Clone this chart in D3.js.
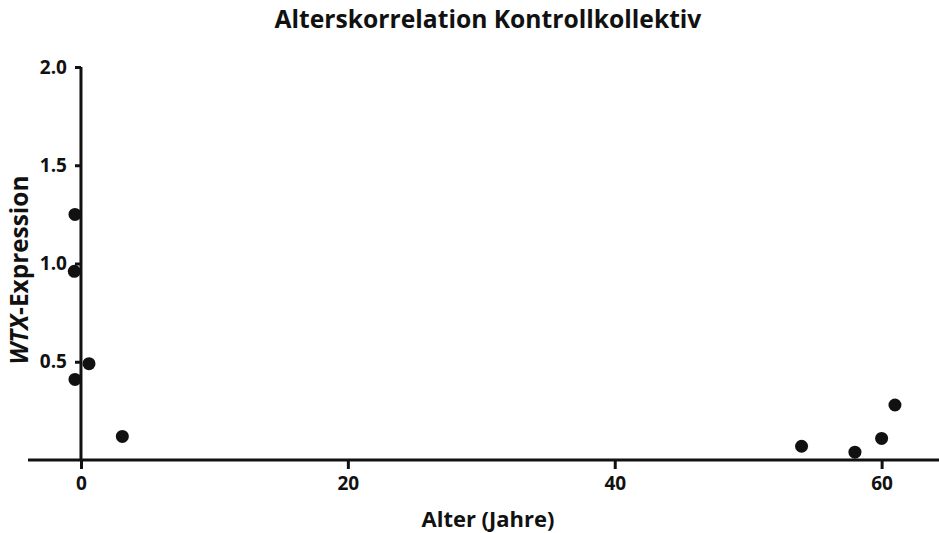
<!DOCTYPE html>
<html>
<head>
<meta charset="utf-8">
<script src="https://cdn.jsdelivr.net/npm/d3@7"></script>
<style>
  html, body { margin: 0; padding: 0; background: #fff; }
  svg { display: block; }
  text { font-family: "Open Sans", Lato, sans-serif; font-weight: bold; fill: #111; }
</style>
</head>
<body>
<svg id="chart" width="939" height="533"></svg>
<script>
// Age (years) and WTX expression for the control cohort
const ageYears = [-0.45, -0.5, 0.6, -0.45, 3.1, 54.0, 58.0, 60.0, 61.0];
const wtxExpression = [1.25, 0.96, 0.49, 0.41, 0.12, 0.07, 0.04, 0.11, 0.28];

const xTickValues = [0, 20, 40, 60];
const yTickValues = [0.5, 1.0, 1.5, 2.0];

const titleText = "Alterskorrelation Kontrollkollektiv";
const xLabelText = "Alter (Jahre)";

const svg = d3.select("#chart");

const x = d3.scaleLinear().domain([-3.97, 64.3]).range([28, 939]);
const y = d3.scaleLinear().domain([0, 2.0]).range([460, 67]);

// Scale a text element's font size so that it spans the given width
function fitWidth(sel, target, startSize) {
  sel.style("font-size", startSize + "px");
  const w = sel.node().getComputedTextLength();
  sel.style("font-size", (startSize * target / w).toFixed(2) + "px");
}

// Axes
const xAxis = svg.append("g").attr("transform", `translate(0,${y(0)})`)
  .call(d3.axisBottom(x).tickValues(xTickValues).tickFormat(d3.format("d")).tickSize(9).tickPadding(8));
const yAxis = svg.append("g").attr("transform", `translate(${x(0)},0)`)
  .call(d3.axisLeft(y).tickValues(yTickValues).tickFormat(d3.format(".1f")).tickSize(6).tickPadding(8));

[xAxis, yAxis].forEach(g => {
  g.select(".domain").attr("stroke", "#111").attr("stroke-width", 3);
  g.selectAll(".tick line").attr("stroke", "#111").attr("stroke-width", 3);
  g.selectAll(".tick text").style("font-size", "19px").attr("fill", "#111");
});
// y axis starts at the top tick and runs down to the x axis; no outer ticks
yAxis.select(".domain").attr("d", `M0,${y(2.0)}V${y(0)}`);
xAxis.select(".domain").attr("d", `M${x.range()[0]},0H${x.range()[1]}`);

// Data points
svg.append("g").selectAll("circle")
  .data(ageYears.map((a, i) => ({ a, v: wtxExpression[i] })))
  .join("circle")
  .attr("cx", d => x(d.a))
  .attr("cy", d => y(d.v))
  .attr("r", 6.5)
  .attr("fill", "#111");

// Title
const title = svg.append("text")
  .attr("x", 488).attr("y", 28)
  .attr("text-anchor", "middle")
  .text(titleText);
fitWidth(title, 427, 22);

// X axis title
const xl = svg.append("text")
  .attr("x", 488).attr("y", 527)
  .attr("text-anchor", "middle")
  .text(xLabelText);
fitWidth(xl, 133, 18);

// Y axis title with italic gene name
const yl = svg.append("text")
  .attr("transform", "translate(28,270) rotate(-90)")
  .attr("text-anchor", "middle");
yl.append("tspan").style("font-style", "italic").text("WTX");
yl.append("tspan").text("-Expression");
fitWidth(yl, 189, 18);
</script>
</body>
</html>
